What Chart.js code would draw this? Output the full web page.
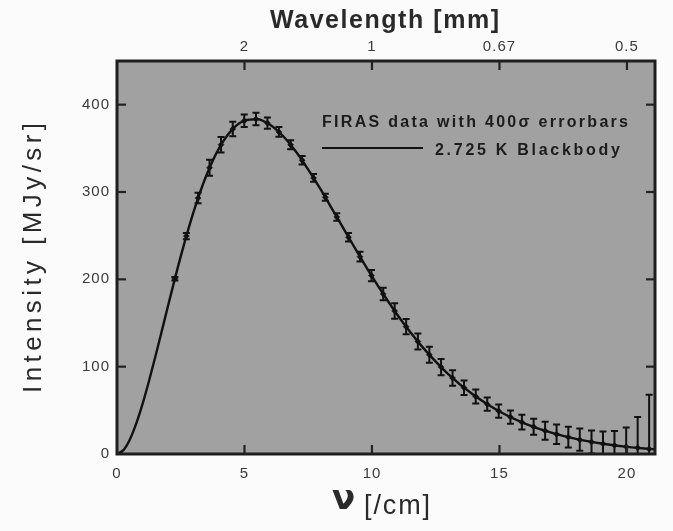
<!DOCTYPE html>
<html>
<head>
<meta charset="utf-8">
<script src="https://cdn.jsdelivr.net/npm/chart.js@4.4.1/dist/chart.umd.min.js"></script>
<style>
  html, body { margin: 0; padding: 0; background: #fbfbfb; }
  #wrap { width: 673px; height: 531px; }
</style>
</head>
<body>
<div id="wrap"><canvas id="c" width="673" height="531"></canvas></div>
<script>
// ---- data ----
const nu = [2.27, 2.72, 3.18, 3.63, 4.08, 4.54, 4.99, 5.45, 5.90, 6.35,
            6.81, 7.26, 7.71, 8.17, 8.62, 9.08, 9.53, 9.98, 10.44, 10.89,
            11.34, 11.80, 12.25, 12.71, 13.16, 13.61, 14.07, 14.52, 14.97, 15.43,
            15.88, 16.34, 16.79, 17.24, 17.70, 18.15, 18.61, 19.06, 19.51, 19.97,
            20.42, 20.87];
const intensity = [200.7, 249.5, 293.0, 327.8, 354.1, 372.1, 381.5, 383.5, 378.9, 368.8,
                   354.1, 336.3, 316.1, 293.9, 271.4, 248.2, 225.9, 204.3, 183.3, 163.8,
                   145.8, 128.8, 113.6, 99.5, 87.0, 75.9, 65.8, 57.0, 49.2, 42.3,
                   36.4, 31.1, 26.6, 22.6, 19.3, 16.4, 13.8, 11.7, 9.9, 8.4,
                   7.1, 5.8];
const errorbars400 = [2.0, 3.6, 6.0, 9.2, 8.8, 8.4, 7.2, 7.2, 6.4, 5.6,
                      5.2, 4.8, 4.4, 4.0, 4.4, 4.8, 5.6, 6.4, 7.2, 8.8,
                      8.8, 9.2, 9.2, 9.2, 8.8, 8.4, 8.0, 7.6, 7.6, 7.6,
                      8.4, 9.2, 10.4, 11.2, 12.0, 12.8, 13.2, 14.0, 16.4, 22.0,
                      35.2, 62.0];
const curveNu = [0, 0.25, 0.5, 0.75, 1, 1.25, 1.5, 1.75, 2, 2.5, 3, 3.5, 4, 4.5, 5, 5.5,
                 6, 6.5, 7, 7.5, 8, 8.5, 9, 9.5, 10, 10.5, 11, 11.5, 12, 13, 14, 15, 16,
                 17, 18, 19, 20, 21, 21.5];
const curveIntensity = [0, 4.4, 16.4, 34.5, 57.1, 83.0, 111.0, 140.1, 169.5, 226.3, 276.9, 318.6, 350.0, 370.9, 381.6, 383.3,
                        377.0, 364.4, 346.9, 325.7, 302.3, 277.4, 252.3, 227.4, 203.3, 180.6, 159.2, 139.7, 121.8, 91.2, 67.2, 48.7, 34.9,
                        24.7, 17.3, 12.0, 8.2, 5.6, 4.6];
const xTickValues = [0, 5, 10, 15, 20];
const yTickValues = [0, 100, 200, 300, 400];
const wavelengthNu = [5, 10, 15, 20];
const wavelengthLabels = ['2', '1', '0.67', '0.5'];
const legendData = 'FIRAS data with 400\u03c3 errorbars';
const legendCurve = '2.725 K Blackbody';

// ---- helpers ----
function spacedText(ctx, text, xLeft, y, width) {
  ctx.letterSpacing = '0px';
  const w = ctx.measureText(text).width;
  const n = Array.from(text).length;
  const sp = n > 1 ? (width - w) / (n - 1) : 0;
  ctx.letterSpacing = sp + 'px';
  ctx.textAlign = 'left';
  ctx.fillText(text, xLeft, y);
  ctx.letterSpacing = '0px';
}

const framePlugin = {
  id: 'frame',
  beforeDraw(chart) {
    const {ctx, chartArea: a} = chart;
    ctx.save();
    ctx.fillStyle = '#a1a1a1';
    ctx.fillRect(a.left, a.top, a.right - a.left, a.bottom - a.top);
    ctx.restore();
    ctx.letterSpacing = '1px';
  },
  afterDatasetsDraw(chart) {
    const {ctx, chartArea: a, scales} = chart;
    const xs = scales.x, ys = scales.y;
    // error bars
    ctx.save();
    ctx.beginPath();
    ctx.rect(a.left, a.top, a.right - a.left, a.bottom - a.top);
    ctx.clip();
    ctx.strokeStyle = '#111';
    ctx.lineWidth = 2;
    for (let i = 0; i < nu.length; i++) {
      const px = xs.getPixelForValue(nu[i]);
      const pTop = ys.getPixelForValue(intensity[i] + errorbars400[i]);
      const pBot = ys.getPixelForValue(intensity[i] - errorbars400[i]);
      ctx.beginPath();
      ctx.moveTo(px, pTop); ctx.lineTo(px, pBot);
      ctx.moveTo(px - 3.5, pTop); ctx.lineTo(px + 3.5, pTop);
      ctx.moveTo(px - 3.5, pBot); ctx.lineTo(px + 3.5, pBot);
      ctx.stroke();
    }
    ctx.restore();
    // inward ticks
    ctx.save();
    ctx.strokeStyle = '#222';
    ctx.lineWidth = 2.2;
    const len = 9;
    wavelengthNu.forEach(v => {
      const px = scales.x2.getPixelForValue(v);
      ctx.beginPath(); ctx.moveTo(px, a.top); ctx.lineTo(px, a.top + len); ctx.stroke();
    });
    xTickValues.filter(v => v > 0).forEach(v => {
      const px = xs.getPixelForValue(v);
      ctx.beginPath(); ctx.moveTo(px, a.bottom); ctx.lineTo(px, a.bottom - len); ctx.stroke();
    });
    yTickValues.filter(v => v > 0).forEach(v => {
      const py = ys.getPixelForValue(v);
      ctx.beginPath(); ctx.moveTo(a.left, py); ctx.lineTo(a.left + len, py); ctx.stroke();
      ctx.beginPath(); ctx.moveTo(a.right, py); ctx.lineTo(a.right - len, py); ctx.stroke();
    });
    // frame
    ctx.strokeStyle = '#1e1e1e';
    ctx.lineWidth = 3;
    ctx.strokeRect(a.left, a.top, a.right - a.left, a.bottom - a.top);
    ctx.restore();
  },
  afterDraw(chart) {
    const {ctx, chartArea: a} = chart;
    ctx.save();
    ctx.letterSpacing = '0px';
    ctx.fillStyle = '#1c1c1c';
    ctx.textBaseline = 'alphabetic';
    // legend
    ctx.font = 'bold 16px "Liberation Sans", Arial, sans-serif';
    spacedText(ctx, legendData, a.left + 205, a.top + 66, 306);
    spacedText(ctx, legendCurve, a.left + 318, a.top + 94, 185);
    ctx.strokeStyle = '#111';
    ctx.lineWidth = 2;
    ctx.beginPath();
    ctx.moveTo(a.left + 205, a.top + 87);
    ctx.lineTo(a.left + 306, a.top + 87);
    ctx.stroke();
    // top title
    ctx.fillStyle = '#2a2a2a';
    ctx.font = 'bold 25px "Liberation Sans", Arial, sans-serif';
    spacedText(ctx, 'Wavelength [mm]', 270, 28, 229);
    // bottom title
    ctx.font = 'bold 34px "DejaVu Sans", sans-serif';
    spacedText(ctx, '\u03bd', 332, 509, 26);
    ctx.font = '27px "Liberation Sans", Arial, sans-serif';
    spacedText(ctx, '[/cm]', 364, 514, 66);
    // y title
    ctx.save();
    ctx.translate(41, 393);
    ctx.rotate(-Math.PI / 2);
    ctx.font = '26px "Liberation Sans", Arial, sans-serif';
    spacedText(ctx, 'Intensity [MJy/sr]', 0, 0, 270);
    ctx.restore();
    ctx.restore();
  }
};

const tickFont = {family: '"Liberation Sans", Arial, sans-serif', size: 15};

new Chart(document.getElementById('c'), {
  type: 'scatter',
  data: {
    datasets: [
      {
        label: legendData,
        data: nu.map((v, i) => ({x: v, y: intensity[i]})),
        pointRadius: 3,
        pointStyle: 'rectRot',
        pointBackgroundColor: '#111',
        pointBorderColor: '#111',
        pointBorderWidth: 0.5,
        showLine: false
      },
      {
        label: legendCurve,
        data: curveNu.map((v, i) => ({x: v, y: curveIntensity[i]})),
        showLine: true,
        pointRadius: 0,
        borderColor: '#111',
        borderWidth: 2.4,
        cubicInterpolationMode: 'monotone'
      }
    ]
  },
  options: {
    responsive: false,
    animation: false,
    devicePixelRatio: 1,
    layout: {padding: {left: 0, right: 18, top: 0, bottom: 0}},
    plugins: {legend: {display: false}, tooltip: {enabled: false}},
    scales: {
      x: {
        type: 'linear', position: 'bottom', min: 0, max: 21.1,
        afterBuildTicks: s => { s.ticks = xTickValues.map(v => ({value: v})); },
        ticks: {font: tickFont, color: '#3a3a3a', padding: 11, autoSkip: false, maxRotation: 0},
        grid: {display: false, drawTicks: false},
        border: {display: false},
        afterFit: s => { s.height = 77; }
      },
      x2: {
        type: 'linear', position: 'top', min: 0, max: 21.1,
        afterBuildTicks: s => { s.ticks = wavelengthNu.map(v => ({value: v})); },
        ticks: {
          font: tickFont, color: '#3a3a3a', padding: 5, autoSkip: false, maxRotation: 0,
          callback: v => wavelengthLabels[wavelengthNu.indexOf(v)]
        },
        grid: {display: false, drawTicks: false},
        border: {display: false},
        afterFit: s => { s.height = 61; }
      },
      y: {
        type: 'linear', position: 'left', min: 0, max: 450,
        afterBuildTicks: s => { s.ticks = yTickValues.map(v => ({value: v})); },
        ticks: {font: tickFont, color: '#3a3a3a', padding: 7, autoSkip: false},
        grid: {display: false, drawTicks: false},
        border: {display: false},
        afterFit: s => { s.width = 117; }
      }
    }
  },
  plugins: [framePlugin]
});
</script>
</body>
</html>
